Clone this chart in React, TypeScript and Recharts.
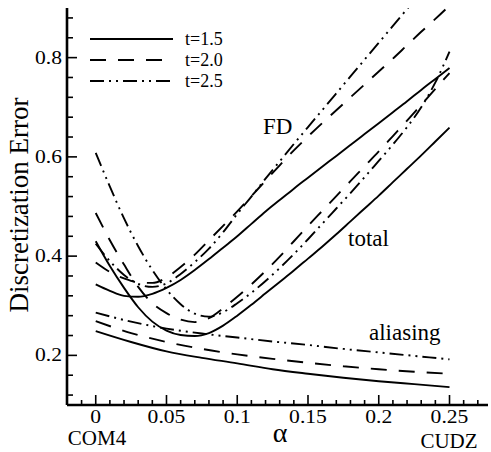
import React from 'react';
import { LineChart, Line, XAxis, YAxis, Legend, Customized } from 'recharts';

// ---------- data ----------
const X_GRID = [
  0, 0.01, 0.02, 0.03, 0.04, 0.05, 0.06, 0.07, 0.08, 0.09, 0.1, 0.11, 0.12,
  0.13, 0.14, 0.15, 0.16, 0.17, 0.18, 0.19, 0.2, 0.21, 0.22, 0.23, 0.24, 0.25,
];

// FD error
const FD_T15 = [
  0.343, 0.33, 0.32, 0.318, 0.324, 0.336, 0.352, 0.372, 0.394, 0.417, 0.44, 0.465, 0.49,
  0.513, 0.536, 0.558, 0.58, 0.602, 0.624, 0.646, 0.668, 0.69, 0.712, 0.735, 0.757, 0.779,
];
const FD_T20 = [
  0.387, 0.368, 0.355, 0.347, 0.346, 0.357, 0.378, 0.403, 0.432, 0.461, 0.49, 0.521, 0.552,
  0.583, 0.613, 0.641, 0.668, 0.694, 0.72, 0.746, 0.772, 0.798, 0.825, 0.852, 0.878, 0.905,
];
const FD_T25 = [
  0.425, 0.39, 0.362, 0.344, 0.338, 0.345, 0.364, 0.388, 0.415, 0.448, 0.485, 0.52, 0.556,
  0.591, 0.626, 0.66, 0.694, 0.728, 0.762, 0.796, 0.83, 0.864, 0.898, 0.932,
];

// total error
const TOT_T15 = [
  0.43, 0.38, 0.336, 0.297, 0.268, 0.25, 0.241, 0.239, 0.245, 0.26, 0.28, 0.302, 0.325,
  0.348, 0.371, 0.395, 0.419, 0.444, 0.47, 0.496, 0.522, 0.549, 0.576, 0.603, 0.631, 0.659,
];
const TOT_T20 = [
  0.487, 0.432, 0.383, 0.338, 0.305, 0.285, 0.272, 0.267, 0.275, 0.295, 0.318, 0.343, 0.37,
  0.399, 0.43, 0.461, 0.491, 0.521, 0.551, 0.581, 0.611, 0.642, 0.673, 0.705, 0.737, 0.769,
];
const TOT_T25 = [
  0.608, 0.54, 0.476, 0.42, 0.372, 0.333, 0.303, 0.284, 0.278, 0.287, 0.305, 0.326, 0.35,
  0.376, 0.404, 0.434, 0.465, 0.496, 0.527, 0.559, 0.592, 0.625, 0.66, 0.7, 0.75, 0.812,
];

// aliasing error
const ALI_X = [0, 0.025, 0.05, 0.075, 0.1, 0.125, 0.15, 0.175, 0.2, 0.225, 0.25];
const ALI_T15 = [0.249, 0.227, 0.208, 0.195, 0.184, 0.172, 0.163, 0.155, 0.148, 0.142, 0.136];
const ALI_T20 = [0.269, 0.245, 0.227, 0.213, 0.202, 0.193, 0.185, 0.178, 0.172, 0.167, 0.163];
const ALI_T25 = [0.286, 0.268, 0.254, 0.244, 0.236, 0.228, 0.221, 0.213, 0.206, 0.199, 0.192];

const LEGEND_LABELS = ['t=1.5', 't=2.0', 't=2.5'];
const X_TICKS = [
  -0.01, 0, 0.01, 0.02, 0.03, 0.04, 0.05, 0.06, 0.07, 0.08, 0.09, 0.1, 0.11, 0.12, 0.13,
  0.14, 0.15, 0.16, 0.17, 0.18, 0.19, 0.2, 0.21, 0.22, 0.23, 0.24, 0.25, 0.26, 0.27,
];
const Y_TICKS = [
  0.12, 0.16, 0.2, 0.24, 0.28, 0.32, 0.36, 0.4, 0.44, 0.48, 0.52, 0.56, 0.6, 0.64, 0.68,
  0.72, 0.76, 0.8, 0.84, 0.88,
];
const X_MAJOR = [0, 0.05, 0.1, 0.15, 0.2, 0.25];
const Y_MAJOR = [0.2, 0.4, 0.6, 0.8];

// ---------- styles ----------
const FONT = '"Liberation Serif", "Times New Roman", serif';
const DASHES = ['', '16 12', '14 5 2 5 2 5'];

const zip = (xs: number[], ys: number[]) => ys.map((y, i) => ({ x: xs[i], y }));

const isIn = (v: number, arr: number[]) => arr.some((a) => Math.abs(a - v) < 1e-9);

const XTick = (props: any) => {
  const { x, y, payload } = props;
  const v = payload.value as number;
  const major = isIn(v, X_MAJOR);
  return (
    <g>
      <line x1={x} x2={x} y1={y} y2={y - (major ? 10 : 5)} stroke="#000" strokeWidth={1.6} />
      {major && (
        <text
          transform={`translate(${x},${y + 18}) scale(1.2,1)`}
          textAnchor="middle"
          style={{ fontFamily: FONT, fontSize: 18 }}
          fill="#000"
        >
          {String(v)}
        </text>
      )}
    </g>
  );
};

const YTick = (props: any) => {
  const { x, y, payload } = props;
  const v = payload.value as number;
  const major = isIn(v, Y_MAJOR);
  return (
    <g>
      <line x1={x} x2={x + (major ? 10 : 6)} y1={y} y2={y} stroke="#000" strokeWidth={1.6} />
      {major && (
        <text
          transform={`translate(${x - 5},${y + 6}) scale(1.2,1)`}
          textAnchor="end"
          style={{ fontFamily: FONT, fontSize: 18 }}
          fill="#000"
        >
          {v.toFixed(1)}
        </text>
      )}
    </g>
  );
};

const LegendBox = (props: any) => {
  const items = ((props.payload || []) as any[]).filter((it) => LEGEND_LABELS.includes(it.value));
  const ordered = LEGEND_LABELS.map((l) => items.find((it) => it.value === l) || { value: l });
  return (
    <svg width={300} height={100} style={{ display: 'block' }}>
      {ordered.map((it, i) => (
        <g key={i}>
          <line
            x1={90}
            x2={173}
            y1={39 + i * 21}
            y2={39 + i * 21}
            stroke="#000"
            strokeWidth={2}
            strokeDasharray={DASHES[i]}
          />
          <text x={185} y={45 + i * 21} style={{ fontFamily: FONT, fontSize: 18 }} fill="#000">
            {it.value}
          </text>
        </g>
      ))}
    </svg>
  );
};

const Annotations = () => (
  <g style={{ fontFamily: FONT }} fill="#000">
    <text x={263} y={134} fontSize={23}>FD</text>
    <text x={348} y={246} fontSize={23}>total</text>
    <text x={369} y={340} fontSize={23}>aliasing</text>
    <text x={280} y={442} fontSize={28} textAnchor="middle">α</text>
    <text x={97} y={445} fontSize={21} textAnchor="middle">COM4</text>
    <text x={449} y={448} fontSize={21} textAnchor="middle">CUDZ</text>
    <text
      x={28}
      y={205}
      fontSize={27}
      textAnchor="middle"
      transform="rotate(-90, 28, 205)"
    >
      Discretization Error
    </text>
  </g>
);

const SERIES = [
  { key: 'fd15', name: LEGEND_LABELS[0], data: zip(X_GRID, FD_T15), dash: DASHES[0], legend: true },
  { key: 'fd20', name: LEGEND_LABELS[1], data: zip(X_GRID, FD_T20), dash: DASHES[1], legend: true },
  { key: 'fd25', name: LEGEND_LABELS[2], data: zip(X_GRID, FD_T25), dash: DASHES[2], legend: true },
  { key: 'tot15', name: 'total t=1.5', data: zip(X_GRID, TOT_T15), dash: DASHES[0], legend: false },
  { key: 'tot20', name: 'total t=2.0', data: zip(X_GRID, TOT_T20), dash: DASHES[1], legend: false },
  { key: 'tot25', name: 'total t=2.5', data: zip(X_GRID, TOT_T25), dash: DASHES[2], legend: false },
  { key: 'ali15', name: 'aliasing t=1.5', data: zip(ALI_X, ALI_T15), dash: DASHES[0], legend: false },
  { key: 'ali20', name: 'aliasing t=2.0', data: zip(ALI_X, ALI_T20), dash: DASHES[1], legend: false },
  { key: 'ali25', name: 'aliasing t=2.5', data: zip(ALI_X, ALI_T25), dash: DASHES[2], legend: false },
];

export default function App() {
  return (
    <div style={{ position: 'absolute', left: 0, top: 0, background: '#fff' }}>
      <LineChart width={491} height={452} margin={{ top: 8, right: 3, left: 0, bottom: 0 }}>
        <XAxis
          xAxisId={0}
          type="number"
          dataKey="x"
          domain={[-0.0203, 0.2772]}
          allowDataOverflow
          ticks={X_TICKS}
          interval={0}
          tick={<XTick />}
          tickLine={false}
          tickSize={0}
          tickMargin={0}
          height={47}
          axisLine={{ stroke: '#000', strokeWidth: 2.6 }}
        />
        <XAxis
          xAxisId="top"
          orientation="top"
          type="number"
          domain={[-0.0203, 0.2772]}
          tick={false}
          tickLine={false}
          height={0}
          axisLine={{ stroke: '#000', strokeWidth: 1.6 }}
        />
        <YAxis
          yAxisId={0}
          type="number"
          domain={[0.1, 0.9]}
          allowDataOverflow
          ticks={Y_TICKS}
          interval={0}
          tick={<YTick />}
          tickLine={false}
          tickSize={0}
          tickMargin={0}
          width={67}
          axisLine={{ stroke: '#000', strokeWidth: 2.6 }}
        />
        <YAxis
          yAxisId="right"
          orientation="right"
          type="number"
          domain={[0.1, 0.9]}
          tick={false}
          tickLine={false}
          width={0}
          axisLine={{ stroke: '#000', strokeWidth: 1.4 }}
        />
        <Legend
          layout="vertical"
          align="center"
          verticalAlign="middle"
          content={<LegendBox />}
          wrapperStyle={{ position: 'absolute', left: 0, top: 0, width: 300, height: 100 }}
        />
        {SERIES.map((s) => (
          <Line
            key={s.key}
            data={s.data}
            dataKey="y"
            name={s.name}
            type="monotone"
            stroke="#000"
            strokeWidth={1.9}
            strokeDasharray={s.dash || undefined}
            dot={false}
            activeDot={false}
            legendType={s.legend ? 'line' : 'none'}
            isAnimationActive={false}
          />
        ))}
        <Customized component={Annotations} />
      </LineChart>
    </div>
  );
}
